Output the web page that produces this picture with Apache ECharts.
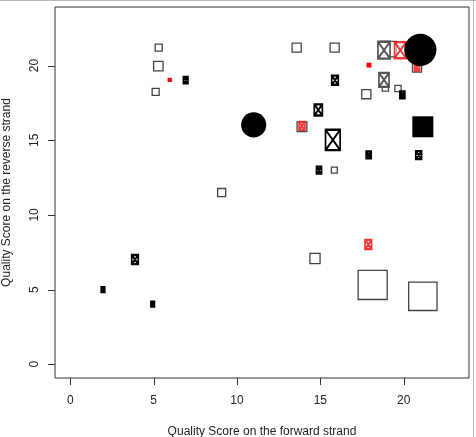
<!DOCTYPE html>
<html>
<head>
<meta charset="utf-8">
<script src="https://cdn.jsdelivr.net/npm/echarts@6/dist/echarts.min.js"></script>
<style>
  html, body { margin: 0; padding: 0; background: #fff; }
  #main { width: 476px; height: 437px; }
  .edge-top { position: absolute; left: 0; top: 0; width: 476px; height: 1px; background: #b8b8b8; }
  .edge-right { position: absolute; left: 473px; top: 0; width: 1px; height: 437px; background: #b8b8b8; }
</style>
</head>
<body>
<div id="main"></div>
<div class="edge-top"></div>
<div class="edge-right"></div>
<script>
// tick labels
var xTicks = [0, 5, 10, 15, 20];
var yTicks = [0, 5, 10, 15, 20];

// [forward score, reverse score, weight]
var openSquares = [
  [5.3, 21.2, 1.0], [5.28, 19.96, 1.35], [5.12, 18.24, 1.0], [9.08, 11.5, 1.15],
  [13.58, 21.2, 1.3], [15.86, 21.2, 1.3], [15.84, 13.0, 0.85], [14.68, 7.08, 1.45],
  [17.76, 18.08, 1.3], [18.9, 18.5, 0.9], [19.66, 18.46, 0.9], [13.9, 15.9, 1.4],
  [18.14, 5.31, 4.15], [21.15, 4.55, 4.05], [19.1, 21.1, 2.2], [20.8, 19.87, 1.3]
];
var boxBlack = [
  [15.75, 15.02, 2.9], [14.88, 17.03, 1.6], [15.88, 19.02, 1.3], [14.92, 13.0, 1.0],
  [17.9, 14.02, 1.0], [20.9, 14.0, 1.15], [19.92, 18.04, 1.0], [6.92, 19.02, 0.9],
  [3.88, 7.01, 1.3], [1.96, 5.0, 0.7], [4.94, 4.02, 0.7]
];
var boxGrey = [
  [18.82, 19.04, 2.0], [18.82, 21.03, 2.4]
];
var boxRed = [
  [19.8, 21.03, 2.3], [17.88, 8.02, 1.3], [13.9, 15.96, 1.15], [20.8, 19.9, 1.0]
];
var redDots = [
  [5.96, 19.04, 0.6], [17.92, 20.03, 0.7]
];
var solidSquares = [
  [21.15, 15.9, 3.0]
];
var solidCircles = [
  [11.0, 16.03, 3.6], [21.0, 21.05, 4.6]
];

var AX_MIN = -0.92, AX_MAX = 23.92;
var UNIT = 7;
var TICK = 7;
var boxPath = 'path://M0,0H10V14H0Z M0,0L10,14 M10,0L0,14';

function sq(d) { return d[2] * UNIT; }
function box(d) { return [d[2] * UNIT * 0.72, d[2] * UNIT]; }

var chart = echarts.init(document.getElementById('main'));

function axisBase(name, ticks, gap, margin) {
  return {
    type: 'value',
    min: AX_MIN,
    max: AX_MAX,
    name: name,
    nameLocation: 'middle',
    nameGap: gap,
    nameTextStyle: { fontFamily: 'Liberation Sans', fontSize: 12, color: '#222' },
    axisLine: { show: false, onZero: false },
    axisTick: { show: false },
    axisLabel: { customValues: ticks, fontFamily: 'Liberation Sans', fontSize: 12, color: '#222', margin: margin },
    splitLine: { show: false }
  };
}

var xAxis = axisBase('Quality Score on the forward strand', xTicks, 48, 17);
var yAxis = axisBase('Quality Score on the reverse strand', yTicks, 42, 14);
yAxis.axisLabel.rotate = 90;

function series(data, symbol, size, style) {
  style.opacity = 1;
  return {
    type: 'scatter',
    data: data,
    symbol: symbol,
    symbolSize: size,
    symbolKeepAspect: false,
    itemStyle: style,
    emphasis: { disabled: true },
    silent: true
  };
}

chart.setOption({
  animation: false,
  grid: {
    left: 55, right: 7, top: 7, bottom: 59,
    outerBoundsMode: 'none', containLabel: false,
    show: true, borderColor: '#333', borderWidth: 1
  },
  xAxis: xAxis,
  yAxis: yAxis,
  series: [
    series(openSquares, 'rect', sq, { color: 'rgba(0,0,0,0)', borderColor: '#444', borderWidth: 1.3 }),
    series(boxGrey, boxPath, box, { color: '#fff', borderColor: '#555', borderWidth: 2 }),
    series(boxBlack, boxPath, box, { color: '#fff', borderColor: '#000', borderWidth: 2 }),
    series(boxRed, boxPath, box, { color: 'rgba(255,255,255,0.6)', borderColor: 'rgba(240,20,20,0.85)', borderWidth: 2 }),
    series(redDots, 'rect', sq, { color: '#f00' }),
    series(solidSquares, 'rect', sq, { color: '#000' }),
    series(solidCircles, 'circle', sq, { color: '#000' })
  ]
});

// outward tick marks, placed through the axis scales
var tickLines = [];
xTicks.forEach(function (v) {
  var p = chart.convertToPixel({ gridIndex: 0 }, [v, AX_MIN]);
  var x = Math.round(p[0]) + 0.5, y = Math.round(p[1]);
  tickLines.push({ type: 'line', silent: true, z: 100,
    shape: { x1: x, y1: y, x2: x, y2: y + TICK }, style: { stroke: '#333', lineWidth: 1 } });
});
yTicks.forEach(function (v) {
  var p = chart.convertToPixel({ gridIndex: 0 }, [AX_MIN, v]);
  var x = Math.round(p[0]), y = Math.round(p[1]) + 0.5;
  tickLines.push({ type: 'line', silent: true, z: 100,
    shape: { x1: x - TICK, y1: y, x2: x, y2: y }, style: { stroke: '#333', lineWidth: 1 } });
});
chart.setOption({ graphic: tickLines });
</script>
</body>
</html>
